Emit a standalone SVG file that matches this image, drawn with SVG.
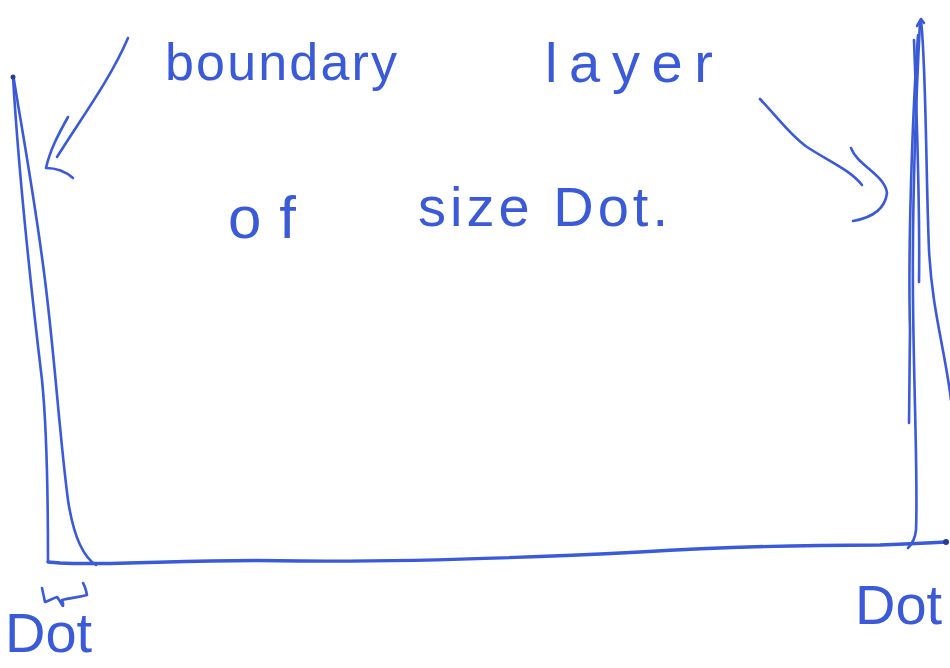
<svg xmlns="http://www.w3.org/2000/svg" width="950" height="668" viewBox="0 0 950 668">
<style>
.ink{fill:none;stroke:#3a5ad8;stroke-width:2.6;stroke-linecap:round;stroke-linejoin:round}
.bold{stroke-width:3.4}
.txt{fill:#3a5ad8;font-family:"Liberation Sans","DejaVu Sans",sans-serif}
</style>
<rect width="950" height="668" fill="#ffffff"/>
<g id="connectors">
  <g id="arrow-left">
    <path class="ink" d="M128,38 C110,80 80,120 57,157"/>
    <path class="ink" d="M68,117 C58,135 50,150 46,168 C55,168 65,171 73,178"/>
  </g>
  <g id="arrow-right">
    <path class="ink" d="M760,99 C780,120 790,135 807,147 C830,162 850,170 862,185"/>
    <path class="ink" d="M851,148 C857,165 885,175 887,193 C885,210 870,218 853,221"/>
  </g>
</g>
<g id="left-wall">
  <path class="ink" d="M13,77 C18,160 30,280 42,380 C47,430 48,500 48,562"/>
  <path class="ink" d="M14,80 C22,130 35,200 45,280 C55,360 60,440 68,500 C74,540 85,558 96,565"/>
  <circle cx="13" cy="77" r="2.5" fill="#2a3a9a"/>
</g>
<g id="right-wall">
  <path class="ink" d="M920,22 C916,100 912,200 913,300 C914,400 918,480 916,530 C915,540 911,545 908,548"/>
  <path class="ink" d="M921,21 C926,60 926,180 929,250 C932,310 945,350 951,400"/>
  <path class="ink" d="M918,35 C912,120 908,250 910,330 L909,423"/>
  <path class="ink" d="M914,40 C917,120 920,220 919,282"/>
  <path class="ink" d="M917,26 L921,19 L924,23"/>
</g>
<g id="bottom-wall">
  <path class="ink bold" d="M48,562 L60,563 C120,566 200,558 300,561 C420,562 560,556 640,552 C720,547 800,545 880,545 C910,544 930,543 946,542"/>
  <circle cx="946" cy="542" r="3" fill="#2a3a9a"/>
</g>
<g id="label-top">
  <text class="txt" x="165" y="80" font-size="52" textLength="232" lengthAdjust="spacing">boundary</text>
  <text class="txt" x="545" y="82" font-size="56" textLength="168" lengthAdjust="spacing">layer</text>
  <text class="txt" x="228" y="238" font-size="60" textLength="68" lengthAdjust="spacing">of</text>
  <text class="txt" x="418" y="226" font-size="56" textLength="250" lengthAdjust="spacing">size Dot.</text>
</g>
<g id="label-left">
  <path class="ink" d="M42,588 L45,602 C50,600 54,598 57,597 C60,600 62,606 63,606 C64,604 62,601 62,600 C70,598 80,597 87,595 C86,590 85,586 83,583"/>
  <text class="txt" x="5" y="652" font-size="56">Dot</text>
</g>
<g id="label-right">
  <text class="txt" x="855" y="624" font-size="56">Dot</text>
</g>
</svg>
